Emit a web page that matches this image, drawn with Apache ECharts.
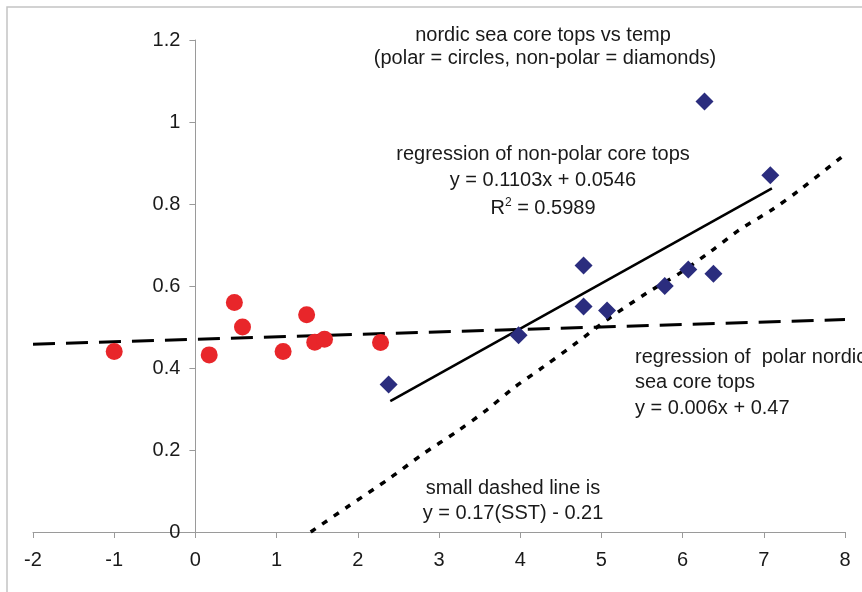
<!DOCTYPE html>
<html>
<head>
<meta charset="utf-8">
<script src="https://cdn.jsdelivr.net/npm/echarts@6/dist/echarts.min.js"></script>
<style>
  html, body { margin: 0; padding: 0; background: #fff; }
  #chart { width: 862px; height: 592px; }
</style>
</head>
<body>
<div id="chart"></div>
<script>
// polar core tops (circles)
var polarX = [-1, 0.17, 0.48, 0.58, 1.08, 1.37, 1.47, 1.59, 2.28];
var polarY = [0.44, 0.432, 0.56, 0.50, 0.44, 0.53, 0.463, 0.47, 0.462];
// non-polar core tops (diamonds)
var nonPolarX = [2.38, 3.98, 4.78, 4.78, 5.07, 5.78, 6.07, 6.27, 6.38, 7.08];
var nonPolarY = [0.36, 0.48, 0.65, 0.55, 0.54, 0.60, 0.64, 1.05, 0.63, 0.87];
// regression lines (end points)
var nonPolarFitX = [2.4, 7.1];
var nonPolarFitY = [0.319, 0.838];
var polarFitX = [-2, 8];
var polarFitY = [0.458, 0.518];
// small dashed line (SST calibration)
var sstX = [1.42, 1.87, 2.40, 2.80, 3.22, 3.59, 3.91, 4.28, 4.65, 5.10, 5.56, 5.97, 6.33, 6.70, 7.11, 7.44, 8.02];
var sstY = [0.0, 0.061, 0.132, 0.190, 0.245, 0.298, 0.350, 0.402, 0.455, 0.522, 0.583, 0.632, 0.682, 0.737, 0.787, 0.834, 0.924];

function pairs(xs, ys) {
  var out = [];
  for (var i = 0; i < xs.length; i++) {
    out.push([xs[i], ys[i]]);
  }
  return out;
}

var font = '"Liberation Sans", Arial, sans-serif';
var txt = '#1a1a1a';
// y轴放在 x=0 处
var gridLeft = 33, gridRight = 17;
var plotW = 862 - gridLeft - gridRight;
var yAxisShift = plotW * (0 - (-2)) / (8 - (-2));

var chart = echarts.init(document.getElementById('chart'));
var option = {
  animation: false,
  grid: { left: gridLeft, right: gridRight, top: 40, bottom: 60, containLabel: false, outerBoundsMode: 'none' },
  xAxis: {
    type: 'value',
    min: -2, max: 8, interval: 1,
    splitLine: { show: false },
    axisLine: { lineStyle: { color: '#9a9a9a', width: 1 } },
    axisTick: { length: 6, lineStyle: { color: '#9a9a9a' } },
    axisLabel: { color: txt, fontSize: 20, fontFamily: font, margin: 18 }
  },
  yAxis: {
    type: 'value',
    min: 0, max: 1.2, interval: 0.2,
    offset: -yAxisShift,
    splitLine: { show: false },
    axisLine: { show: true, onZero: false, lineStyle: { color: '#9a9a9a', width: 1 } },
    axisTick: { show: true, length: 6, lineStyle: { color: '#9a9a9a' } },
    axisLabel: { color: txt, fontSize: 20, fontFamily: font, margin: 15 }
  },
  graphic: [
    {//外框
      type: 'rect', shape: { x: 7, y: 7, width: 900, height: 700 },
      style: { fill: null, stroke: '#c4c4c4', lineWidth: 1.5 }, silent: true
    },
    { type: 'text', x: 543, y: 35, style: { text: 'nordic sea core tops vs temp', fontSize: 20, fontFamily: font, fill: txt, textAlign: 'center', textVerticalAlign: 'middle' } },
    { type: 'text', x: 545, y: 58, style: { text: '(polar = circles, non-polar = diamonds)', fontSize: 20, fontFamily: font, fill: txt, textAlign: 'center', textVerticalAlign: 'middle' } },
    { type: 'text', x: 543, y: 154, style: { text: 'regression of non-polar core tops', fontSize: 20, fontFamily: font, fill: txt, textAlign: 'center', textVerticalAlign: 'middle' } },
    { type: 'text', x: 543, y: 180, style: { text: 'y = 0.1103x + 0.0546', fontSize: 20, fontFamily: font, fill: txt, textAlign: 'center', textVerticalAlign: 'middle' } },
    { type: 'text', x: 543, y: 208, style: { text: 'R{sup|2} = 0.5989', fontSize: 20, fontFamily: font, fill: txt, textAlign: 'center', textVerticalAlign: 'middle',
        rich: { sup: { fontSize: 12, fontFamily: font, fill: txt, verticalAlign: 'top', padding: [0, 0, 10, 0] } } } },
    { type: 'text', x: 635, y: 357, style: { text: 'regression of  polar nordic', fontSize: 20, fontFamily: font, fill: txt, textAlign: 'left', textVerticalAlign: 'middle' } },
    { type: 'text', x: 635, y: 382, style: { text: 'sea core tops', fontSize: 20, fontFamily: font, fill: txt, textAlign: 'left', textVerticalAlign: 'middle' } },
    { type: 'text', x: 635, y: 408, style: { text: 'y = 0.006x + 0.47', fontSize: 20, fontFamily: font, fill: txt, textAlign: 'left', textVerticalAlign: 'middle' } },
    { type: 'text', x: 513, y: 488, style: { text: 'small dashed line is', fontSize: 20, fontFamily: font, fill: txt, textAlign: 'center', textVerticalAlign: 'middle' } },
    { type: 'text', x: 513, y: 513, style: { text: 'y = 0.17(SST) - 0.21', fontSize: 20, fontFamily: font, fill: txt, textAlign: 'center', textVerticalAlign: 'middle' } }
  ],
  series: [
    {
      name: 'polar regression',
      type: 'line',
      data: pairs(polarFitX, polarFitY),
      symbol: 'none',
      lineStyle: { color: '#000', width: 3, type: [22, 11] },
      z: 2
    },
    {
      name: 'SST line',
      type: 'line',
      data: pairs(sstX, sstY),
      symbol: 'none',
      smooth: 0.3,
      lineStyle: { color: '#000', width: 3.5, type: [6, 8] },
      z: 2
    },
    {
      name: 'non-polar regression',
      type: 'line',
      data: pairs(nonPolarFitX, nonPolarFitY),
      symbol: 'none',
      lineStyle: { color: '#000', width: 2.5 },
      z: 2
    },
    {
      name: 'polar',
      type: 'scatter',
      data: pairs(polarX, polarY),
      symbol: 'circle',
      symbolSize: 17,
      itemStyle: { color: '#e8262a', opacity: 1 },
      z: 3
    },
    {
      name: 'non-polar',
      type: 'scatter',
      data: pairs(nonPolarX, nonPolarY),
      symbol: 'diamond',
      symbolSize: 18,
      itemStyle: { color: '#2b2d7e', opacity: 1 },
      z: 3
    }
  ]
};
chart.setOption(option);
</script>
</body>
</html>
